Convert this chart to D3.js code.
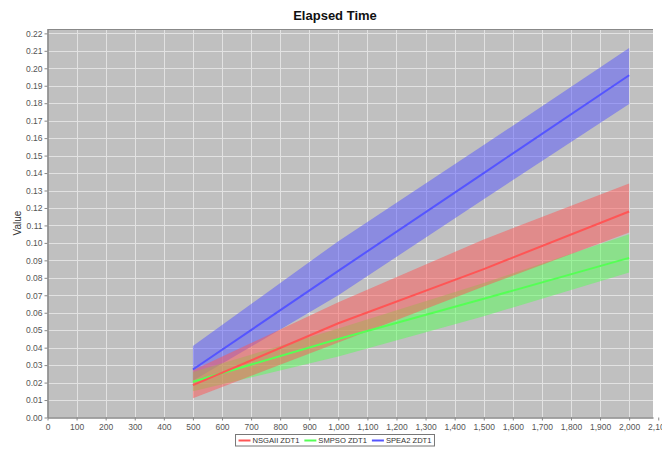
<!DOCTYPE html>
<html>
<head>
<meta charset="utf-8">
<script src="https://cdn.jsdelivr.net/npm/d3@7"></script>
<style>
  body { margin: 0; background: #fff; }
  svg { display: block; }
</style>
</head>
<body>
<svg width="662" height="451"></svg>
<script>
// evaluations (x) and elapsed time statistics per algorithm
const evaluations = [500, 1000, 1500, 2000];

const nsgaMean = [0.0185, 0.054, 0.085, 0.118];
const nsgaLow  = [0.011, 0.043, 0.075, 0.106];
const nsgaHigh = [0.027, 0.066, 0.102, 0.134];

const smpsoMean = [0.0205, 0.045, 0.068, 0.0914];
const smpsoLow  = [0.015, 0.035, 0.058, 0.083];
const smpsoHigh = [0.026, 0.051, 0.077, 0.105];

const speaMean = [0.0275, 0.084, 0.140, 0.196];
const speaLow  = [0.021, 0.070, 0.125, 0.1796];
const speaHigh = [0.041, 0.101, 0.156, 0.2116];

const seriesNames = ['NSGAII ZDT1', 'SMPSO ZDT1', 'SPEA2 ZDT1'];
const seriesColors = ['#ff5555', '#55ff55', '#5555ff'];

const xTicks = d3.range(0, 22).map(i => i * 100);
const yTicks = d3.range(0, 23).map(i => i / 100);

const series = [
  { name: seriesNames[0], color: seriesColors[0], mean: nsgaMean, low: nsgaLow, high: nsgaHigh },
  { name: seriesNames[1], color: seriesColors[1], mean: smpsoMean, low: smpsoLow, high: smpsoHigh },
  { name: seriesNames[2], color: seriesColors[2], mean: speaMean, low: speaLow, high: speaHigh },
];

const svg = d3.select('svg');
const plot = { left: 47.5, right: 653, top: 29, bottom: 417.5 };

const x = d3.scaleLinear().domain([0, 2082]).range([plot.left, plot.right]);
const y = d3.scaleLinear().domain([0, 0.2225]).range([plot.bottom, plot.top]);

// title
svg.append('text')
  .attr('x', 335).attr('y', 20)
  .attr('text-anchor', 'middle')
  .style('font', 'bold 13px "Liberation Sans", Arial, sans-serif')
  .style('fill', '#111')
  .text('Elapsed Time');

// plot background
svg.append('rect')
  .attr('x', plot.left).attr('y', plot.top)
  .attr('width', plot.right - plot.left).attr('height', plot.bottom - plot.top)
  .style('fill', '#c0c0c0');

// grid
const grid = svg.append('g').style('stroke', '#e2e2e2').style('stroke-width', 1);
grid.selectAll('.gx').data(xTicks.filter(d => x(d) > plot.left + 1 && x(d) < plot.right))
  .enter().append('line')
  .attr('x1', d => Math.round(x(d)) + 0.5).attr('x2', d => Math.round(x(d)) + 0.5)
  .attr('y1', plot.top).attr('y2', plot.bottom);
grid.selectAll('.gy').data(yTicks.filter(d => d > 0))
  .enter().append('line')
  .attr('y1', d => Math.round(y(d)) + 0.5).attr('y2', d => Math.round(y(d)) + 0.5)
  .attr('x1', plot.left).attr('x2', plot.right);

// bands then lines, drawn in reverse series order
const drawOrder = series.slice().reverse();
const area = d3.area()
  .x(d => x(d.x)).y0(d => y(d.lo)).y1(d => y(d.hi));
const line = d3.line().x(d => x(d.x)).y(d => y(d.v));

drawOrder.forEach(s => {
  const pts = evaluations.map((e, i) => ({ x: e, lo: s.low[i], hi: s.high[i] }));
  svg.append('path').datum(pts)
    .attr('d', area)
    .style('fill', s.color).style('fill-opacity', 0.5);
});
drawOrder.forEach(s => {
  const pts = evaluations.map((e, i) => ({ x: e, v: s.mean[i] }));
  svg.append('path').datum(pts)
    .attr('d', line)
    .style('fill', 'none').style('stroke', s.color).style('stroke-width', 2);
});

// top border
svg.append('line')
  .attr('x1', plot.left).attr('x2', plot.right)
  .attr('y1', plot.top + 0.5).attr('y2', plot.top + 0.5)
  .style('stroke', '#888');

// axes
const xAxis = d3.axisBottom(x).tickValues(xTicks).tickFormat(d3.format(','))
  .tickSizeInner(3).tickSizeOuter(0).tickPadding(3);
const yAxis = d3.axisLeft(y).tickValues(yTicks).tickFormat(d3.format('.2f'))
  .tickSizeInner(3).tickSizeOuter(0).tickPadding(2);

const gx = svg.append('g').attr('transform', `translate(0,${plot.bottom})`).call(xAxis);
const gy = svg.append('g').attr('transform', `translate(${plot.left},0)`).call(yAxis);

[gx, gy].forEach(g => {
  g.select('.domain').style('stroke', '#888').style('stroke-width', 1.5);
  g.selectAll('.tick line').style('stroke', '#888');
  g.selectAll('.tick text')
    .style('font', '8.5px "Liberation Sans", Arial, sans-serif')
    .style('fill', '#555');
});

// y label
svg.append('text')
  .attr('transform', 'translate(21,223) rotate(-90)')
  .attr('text-anchor', 'middle')
  .style('font', '10px "Liberation Sans", Arial, sans-serif')
  .style('fill', '#333')
  .text('Value');

// legend, laid out from measured text widths and centred under the plot
const legend = svg.append('g');
const box = legend.append('rect')
  .attr('y', 434.5).attr('height', 11.5)
  .style('fill', '#fff').style('stroke', '#777');

let cursor = 0;
series.forEach(s => {
  const item = legend.append('g').attr('transform', `translate(${cursor},0)`);
  item.append('line')
    .attr('x1', 0).attr('x2', 12)
    .attr('y1', 440.5).attr('y2', 440.5)
    .style('stroke', s.color).style('stroke-width', 2);
  const t = item.append('text')
    .attr('x', 14).attr('y', 443.3)
    .style('font', '7.6px "Liberation Sans", Arial, sans-serif')
    .style('fill', '#333')
    .text(s.name);
  cursor += 14 + t.node().getComputedTextLength() + 5;
});
const total = cursor - 5;
const startX = 335 - total / 2;
legend.selectAll('g').each(function () {
  const tr = d3.select(this).attr('transform');
  const dx = +tr.match(/translate\(([-\d.]+)/)[1];
  d3.select(this).attr('transform', `translate(${startX + dx},0)`);
});
box.attr('x', startX - 3).attr('width', total + 6);
</script>
</body>
</html>
